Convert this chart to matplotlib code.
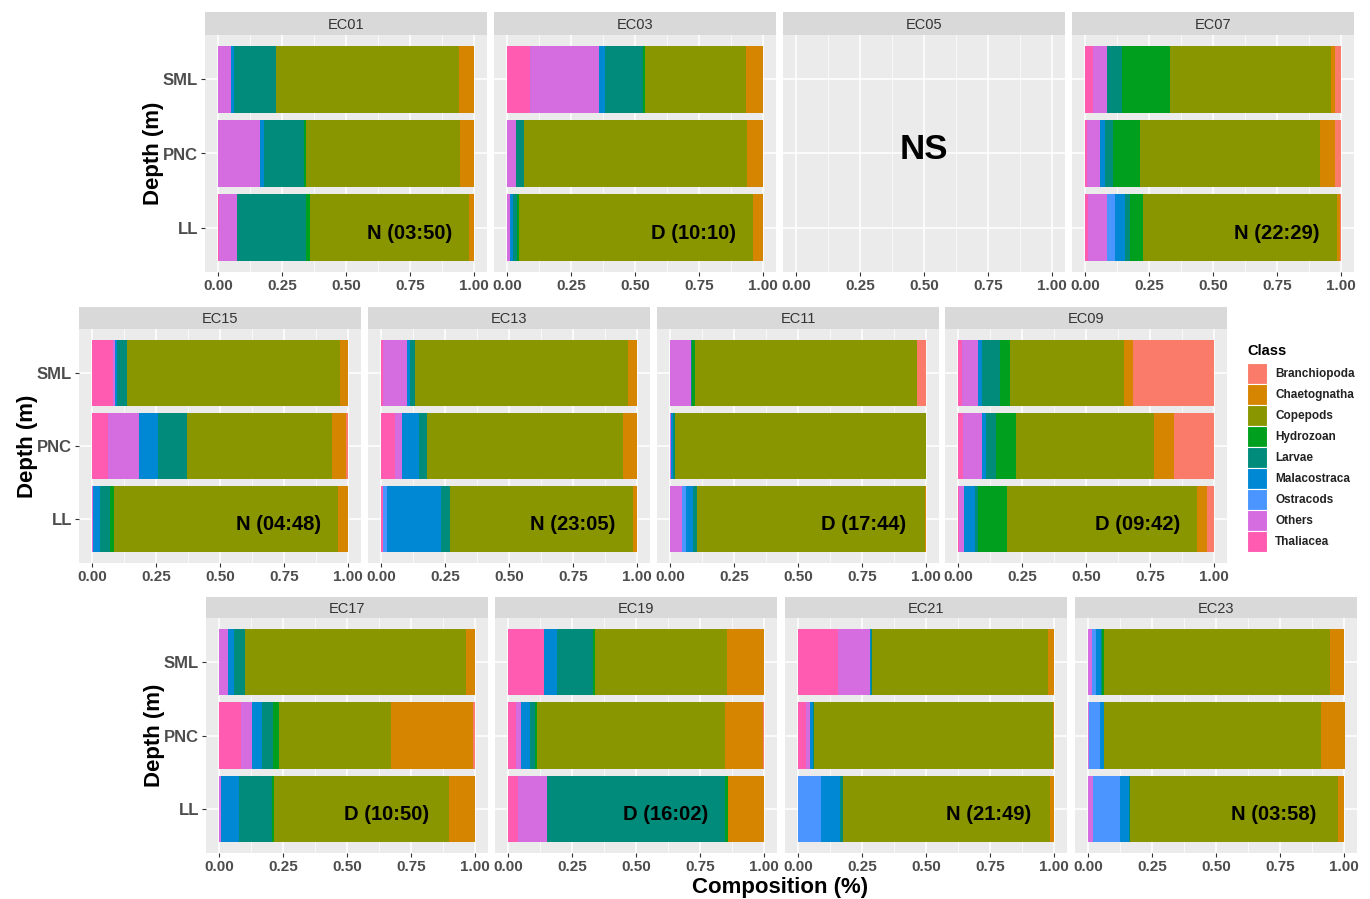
import matplotlib
matplotlib.use("Agg")
import matplotlib.pyplot as plt
from matplotlib.patches import Rectangle

plt.rcParams['font.family'] = ['Liberation Sans', 'DejaVu Sans']

# classes in legend order; bars stack from the last class on the left
classes = ['Branchiopoda', 'Chaetognatha', 'Copepods', 'Hydrozoan', 'Larvae',
           'Malacostraca', 'Ostracods', 'Others', 'Thaliacea']
class_colors = ['#FA7B6A', '#D68500', '#8A9600', '#00A01E', '#008B7A',
                '#0088D5', '#4A95FF', '#D56CE0', '#FF5BB0']
depths = ['SML', 'PNC', 'LL']

# composition per depth (SML, PNC, LL), values in class order
EC01 = [[0, 0.061, 0.713, 0, 0.161, 0.013, 0, 0.052, 0],
        [0, 0.057, 0.601, 0.008, 0.156, 0.016, 0, 0.163, 0],
        [0, 0.020, 0.622, 0.013, 0.270, 0, 0, 0.070, 0.005]]
EC03 = [[0, 0.066, 0.396, 0.007, 0.147, 0.026, 0, 0.268, 0.090],
        [0, 0.063, 0.870, 0, 0.031, 0, 0, 0.036, 0],
        [0, 0.040, 0.913, 0.006, 0.017, 0.009, 0, 0.014, 0]]
EC05 = None
EC07 = [[0.026, 0.016, 0.628, 0.186, 0.060, 0, 0, 0.052, 0.033],
        [0.026, 0.059, 0.701, 0.104, 0.031, 0.020, 0, 0.053, 0.007],
        [0.005, 0.012, 0.755, 0.049, 0.023, 0.038, 0.031, 0.072, 0.014]]
EC15 = [[0, 0.032, 0.830, 0, 0.038, 0.008, 0, 0.010, 0.082],
        [0.007, 0.056, 0.566, 0, 0.113, 0.075, 0, 0.121, 0.062],
        [0, 0.038, 0.874, 0.016, 0.040, 0.026, 0, 0.006, 0]]
EC13 = [[0, 0.035, 0.830, 0, 0.022, 0.008, 0, 0.096, 0.008],
        [0, 0.055, 0.764, 0, 0.034, 0.065, 0, 0.026, 0.056],
        [0, 0.014, 0.714, 0, 0.035, 0.210, 0.018, 0, 0.008]]
EC11 = [[0.035, 0, 0.867, 0.010, 0.004, 0, 0, 0.083, 0],
        [0, 0, 0.978, 0, 0.008, 0.009, 0, 0.005, 0],
        [0.003, 0.004, 0.889, 0, 0.016, 0.026, 0.016, 0.047, 0]]
EC09 = [[0.317, 0.034, 0.446, 0.039, 0.069, 0.014, 0, 0.062, 0.018],
        [0.155, 0.079, 0.540, 0.078, 0.039, 0.014, 0, 0.073, 0.022],
        [0.029, 0.038, 0.741, 0.114, 0.012, 0.040, 0, 0.021, 0.005]]
EC17 = [[0, 0.035, 0.862, 0, 0.045, 0.023, 0, 0.035, 0],
        [0.009, 0.320, 0.439, 0.022, 0.044, 0.038, 0, 0.044, 0.085],
        [0, 0.101, 0.684, 0.008, 0.127, 0.070, 0, 0.010, 0]]
EC19 = [[0, 0.145, 0.514, 0.008, 0.143, 0.048, 0, 0, 0.142],
        [0.004, 0.148, 0.732, 0.009, 0.019, 0.036, 0, 0.018, 0.032],
        [0, 0.140, 0, 0.010, 0.697, 0, 0, 0.112, 0.040]]
EC21 = [[0, 0.023, 0.688, 0, 0.003, 0.003, 0, 0.126, 0.157],
        [0, 0.004, 0.934, 0, 0.004, 0.010, 0, 0.018, 0.030],
        [0, 0.017, 0.805, 0, 0.012, 0.075, 0.091, 0, 0]]
EC23 = [[0, 0.055, 0.884, 0.008, 0.004, 0.020, 0.013, 0.017, 0],
        [0, 0.094, 0.843, 0, 0.003, 0.016, 0.042, 0.004, 0],
        [0, 0.026, 0.809, 0, 0.004, 0.035, 0.107, 0.020, 0]]

# day/night and sampling time per station
stations = ['EC01', 'EC03', 'EC05', 'EC07', 'EC15', 'EC13', 'EC11', 'EC09',
            'EC17', 'EC19', 'EC21', 'EC23']
station_data = [EC01, EC03, EC05, EC07, EC15, EC13, EC11, EC09,
                EC17, EC19, EC21, EC23]
sample_times = ['N (03:50)', 'D (10:10)', None, 'N (22:29)',
                'N (04:48)', 'N (23:05)', 'D (17:44)', 'D (09:42)',
                'D (10:50)', 'D (16:02)', 'N (21:49)', 'N (03:58)']

# layout in pixels: (strip top, strip bottom, panel bottom, panel lefts)
W, H = 1370, 899
PANEL_W = 282
rows = [(12, 35, 272, [205, 494, 783, 1072]),
        (307, 329, 563, [79, 368, 657, 945]),
        (597, 618, 853, [206, 495, 785, 1075])]
label_x = [0.75, 0.73, None, 0.75, 0.73, 0.75, 0.755, 0.70,
           0.655, 0.615, 0.745, 0.725]

fig = plt.figure(figsize=(W / 100, H / 100), dpi=100)


def px_axes(x0, y0, x1, y1):
    return fig.add_axes([x0 / W, 1 - y1 / H, (x1 - x0) / W, (y1 - y0) / H])


ticks = [0, 0.25, 0.5, 0.75, 1.0]
for i, name in enumerate(stations):
    r, c = divmod(i, 4)
    s_top, s_bot, p_bot, lefts = rows[r]
    left = lefts[c]

    strip = px_axes(left, s_top, left + PANEL_W, s_bot)
    strip.set_facecolor('#D9D9D9')
    strip.set_xticks([])
    strip.set_yticks([])
    for sp in strip.spines.values():
        sp.set_visible(False)
    strip.text(0.5, 0.45, name, ha='center', va='center', fontsize=10.5,
               color='#333333', transform=strip.transAxes)

    ax = px_axes(left, s_bot, left + PANEL_W, p_bot)
    ax.set_facecolor('#EBEBEB')
    ax.set_xlim(-0.05, 1.05)
    ax.set_ylim(0.4, 3.6)
    ax.set_xticks(ticks)
    ax.set_xticks([0.125, 0.375, 0.625, 0.875], minor=True)
    ax.set_yticks([3, 2, 1])
    ax.grid(True, which='major', color='white', linewidth=1.1)
    ax.grid(True, which='minor', axis='x', color='white', linewidth=0.5)
    ax.set_axisbelow(True)
    for sp in ax.spines.values():
        sp.set_visible(False)
    ax.tick_params(which='major', length=3, width=0.8, color='#333333', pad=2)
    ax.tick_params(which='minor', length=0)
    ax.set_xticklabels(['0.00', '0.25', '0.50', '0.75', '1.00'],
                       fontsize=11, fontweight='bold', color='#4D4D4D')
    if c == 0:
        ax.set_yticklabels(depths, fontsize=12, fontweight='bold', color='#4D4D4D')
        ax.set_ylabel('Depth (m)', fontsize=16, fontweight='bold', labelpad=-1)
    else:
        ax.set_yticklabels([])
        ax.tick_params(axis='y', length=0)

    values = station_data[i]
    if values is None:
        ax.text(0.5, 2.05, 'NS', ha='center', va='center', fontsize=25,
                fontweight='bold', color='black')
        continue

    for j, row_vals in enumerate(values):
        ypos = 3 - j
        start = 0
        for k in range(len(classes) - 1, -1, -1):
            v = row_vals[k]
            if v > 0:
                ax.barh(ypos, v, left=start, height=0.9, color=class_colors[k],
                        linewidth=0)
                start += v

    ax.text(label_x[i], 0.92, sample_times[i], ha='center', va='center',
            fontsize=14.5, fontweight='bold', color='black')

fig.text(780 / W, 1 - 887 / H, 'Composition (%)', ha='center', va='center',
         fontsize=16, fontweight='bold')

# legend
fig.text(1247 / W, 1 - 351 / H, 'Class', ha='left', va='center',
         fontsize=10.5, fontweight='bold')
for k, (lab, col) in enumerate(zip(classes, class_colors)):
    y0 = 363 + 21 * k
    fig.add_artist(Rectangle((1247 / W, 1 - (y0 + 21) / H), 20 / W, 21 / H,
                             transform=fig.transFigure, facecolor=col,
                             edgecolor='white', linewidth=0.8))
    fig.text(1275 / W, 1 - (y0 + 11) / H, lab, ha='left', va='center',
             fontsize=8.5, fontweight='bold', color='#222222')

fig.savefig('out.png', dpi=100)
